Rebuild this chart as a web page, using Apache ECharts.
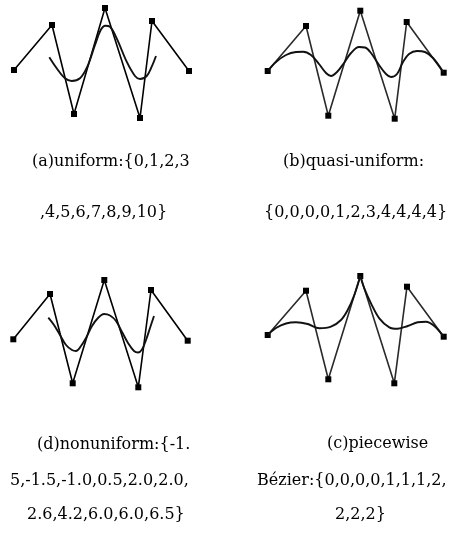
<!DOCTYPE html>
<html>
<head>
<meta charset="utf-8">
<script src="https://cdn.jsdelivr.net/npm/echarts@6/dist/echarts.min.js"></script>
<style>
html,body{margin:0;padding:0;background:#fff;}
#chart{width:462px;height:533px;}
</style>
</head>
<body>
<div id="chart"></div>
<script>
// Control polygons (panel-local pixel units, y down)
var ctrlA = [[14,70],[52,25],[74,114],[105,8],[140,118],[152,21],[189,71]];
var ctrlB = [[36.7,71],[75,26],[97.3,115.7],[129.3,10.7],[163.7,118.7],[175.7,22],[212.7,72.7]];
var ctrlD = [[13.3,69.3],[50,24],[72.7,113.3],[104.3,10],[138.3,117.3],[151,20],[187.7,70.7]];
var ctrlC = [[36.7,65],[75,20.7],[97.3,109.3],[129.3,6],[163.3,113.3],[176,16.7],[212.7,66.7]];

// Curves
var curveA = [[49.3,57.3],[56.7,68.3],[65,78.3],[71.7,81],[80,78.3],[87.3,66.7],[95,45],[100.7,30],[105.3,25.7],[110,26.7],[116.7,38.3],[126.7,61.7],[135,76],[140,79],[146.7,76],[151.7,66.7],[156,56]];
var curveB = [[36.7,71],[45,62],[55,55],[65,52],[72,51.7],[80,55],[88,64],[95,73],[100,76],[106,72],[113,63],[120,53],[128,47],[134,47.5],[140,53],[148,65],[155,74],[160,77],[166,74],[172,62],[178,54],[186,51],[194,52],[202,58],[212.7,72.7]];
var curveD = [[48.3,47.7],[54,55],[60,65],[66,75],[72,80],[76,81],[81,76],[86,68],[92,56],[98,48],[104,44],[110,45.5],[116,51],[122,62],[128,73],[134,81],[138,82.5],[142,79.5],[146,70],[150,58],[154,46]];
var curveC1 = [[36.7,65],[45,58],[55,53.5],[65,52.3],[76.7,54],[88.3,58.3],[100,56.7],[110,50],[116.7,40],[123.3,25],[129.3,6]];
var curveC2 = [[129.3,6],[133.3,18.3],[140,33.3],[148.3,48.3],[158.3,57.3],[166.7,58.7],[176.7,56],[186.7,52.3],[195,51.7],[203.3,56],[212.7,66.7]];

// Captions
var captionA = ["(a)uniform:{0,1,2,3", ",4,5,6,7,8,9,10}"];
var captionB = ["(b)quasi-uniform:", "{0,0,0,0,1,2,3,4,4,4,4}"];
var captionD = ["(d)nonuniform:{-1.", "5,-1.5,-1.0,0.5,2.0,2.0,", "2.6,4.2,6.0,6.0,6.5}"];
var captionC = ["(c)piecewise", "Bézier:{0,0,0,0,1,1,1,2,", "2,2,2}"];

var panels = [
  {left:0, top:0}, {left:231, top:0}, {left:0, top:270}, {left:231, top:270}
];
var grids = [], xAxes = [], yAxes = [], series = [];
panels.forEach(function(p, i){
  grids.push({left:p.left, top:p.top, width:231, height:130, containLabel:false});
  xAxes.push({type:'value', gridIndex:i, min:0, max:231, show:false});
  yAxes.push({type:'value', gridIndex:i, min:0, max:130, inverse:true, show:false});
});
function poly(data, i, color){
  return {type:'line', xAxisIndex:i, yAxisIndex:i, data:data, symbol:'rect', symbolSize:6,
    itemStyle:{color:'#000'}, lineStyle:{color:color, width:1.6}, animation:false, z:2};
}
function curve(data, i){
  return {type:'line', xAxisIndex:i, yAxisIndex:i, data:data, symbol:'none', smooth:0.35,
    lineStyle:{color:'#111', width:1.9}, animation:false, z:3};
}
series.push(poly(ctrlA,0,'#000'), curve(curveA,0));
series.push(poly(ctrlB,1,'#2a2a2a'), curve(curveB,1));
series.push(poly(ctrlD,2,'#000'), curve(curveD,2));
series.push(poly(ctrlC,3,'#2a2a2a'), curve(curveC1,3), curve(curveC2,3));

var font = '16px "DejaVu Serif", serif';
function txt(s, x, y){
  return {type:'text', x:x, y:y, style:{text:s, font:font, fill:'#000', textAlign:'left', textVerticalAlign:'middle', align:'left', verticalAlign:'middle'}};
}
var graphics = [
  txt(captionA[0], 32, 162), txt(captionA[1], 40, 213),
  txt(captionB[0], 283, 162), txt(captionB[1], 264, 213),
  txt(captionD[0], 37, 445), txt(captionD[1], 10, 481), txt(captionD[2], 27, 515),
  txt(captionC[0], 327, 444), txt(captionC[1], 257, 481), txt(captionC[2], 335, 515)
];

var chart = echarts.init(document.getElementById('chart'));
chart.setOption({
  backgroundColor:'#fff',
  grid:grids, xAxis:xAxes, yAxis:yAxes, series:series,
  graphic:graphics
});
</script>
</body>
</html>
